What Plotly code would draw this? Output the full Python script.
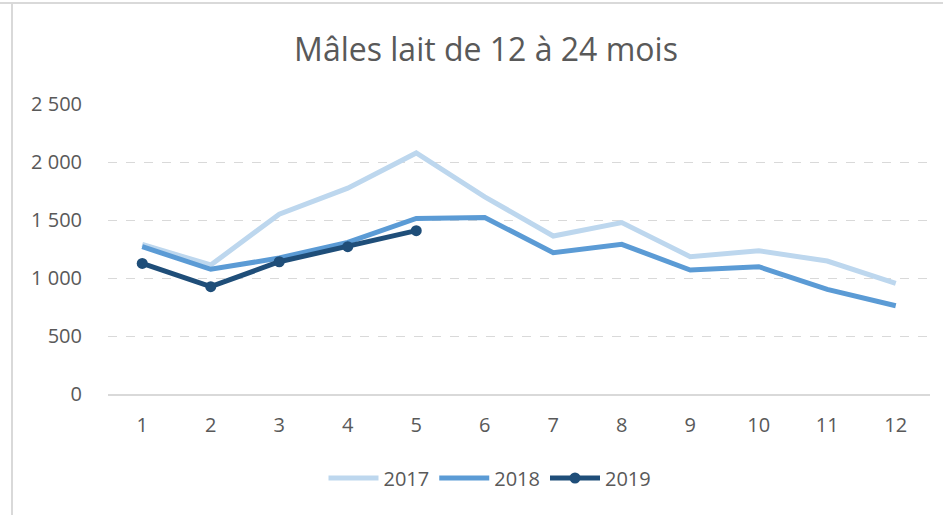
import plotly.graph_objects as go

months = [1, 2, 3, 4, 5, 6, 7, 8, 9, 10, 11, 12]
v2017 = [1290, 1112, 1550, 1775, 2078, 1700, 1362, 1478, 1184, 1235, 1146, 954]
v2018 = [1270, 1075, 1172, 1307, 1514, 1522, 1218, 1290, 1069, 1097, 902, 761]
v2019 = [1126, 925, 1140, 1270, 1408]
ytick_vals = [0, 500, 1000, 1500, 2000, 2500]

W, H = 943, 515
L, R, T, B = 108, 13, 104, 121
pw, ph = W - L - R, H - T - B

fig = go.Figure()
fig.add_trace(go.Scatter(x=months, y=v2017, name="2017", mode="lines",
                         line=dict(color="#BDD7EE", width=5)))
fig.add_trace(go.Scatter(x=months, y=v2018, name="2018", mode="lines",
                         line=dict(color="#5B9BD5", width=5)))
fig.add_trace(go.Scatter(x=months[:len(v2019)], y=v2019, name="2019", mode="lines+markers",
                         line=dict(color="#1F4E79", width=5),
                         marker=dict(size=11, color="#1F4E79")))

font_family = "'Open Sans', sans-serif"
fig.update_layout(
    width=W, height=H,
    margin=dict(l=L, r=R, t=T, b=B),
    paper_bgcolor="white", plot_bgcolor="white",
    separators=", ",
    title=dict(text="Mâles lait de 12 à 24 mois", x=(486 - L) / pw, xref="paper", xanchor="center",
               y=1 - 50 / H, yanchor="middle",
               font=dict(family=font_family, size=32, color="#595959")),
    showlegend=True,
    legend=dict(orientation="h", x=(490 - L) / pw, xanchor="center",
                y=(394 - 478) / ph, yanchor="middle",
                font=dict(family=font_family, size=20, color="#595959"),
                itemwidth=50, tracegroupgap=0),
    font=dict(family=font_family, color="#595959"),
)
fig.update_xaxes(range=[0.5, 12.5], tickvals=months, ticktext=[str(m) for m in months],
                 showgrid=False, zeroline=False, showline=True, linecolor="#D9D9D9", linewidth=1.5,
                 ticks="outside", ticklen=12, tickcolor="rgba(0,0,0,0)",
                 tickfont=dict(family=font_family, size=20, color="#595959"), fixedrange=True)
fig.update_yaxes(range=[0, 2500], tickvals=ytick_vals, tickformat=",d",
                 showgrid=True, gridcolor="#D9D9D9", griddash="dash", gridwidth=1.2,
                 zeroline=False, showline=False,
                 ticks="outside", ticklen=21, tickcolor="rgba(0,0,0,0)",
                 tickfont=dict(family=font_family, size=20, color="#595959"), fixedrange=True)

# outer frame lines (top and left)
fig.add_shape(type="line", xref="paper", yref="paper",
              x0=(0 - L) / pw, x1=(W - L) / pw, y0=1 + (T - 3) / ph, y1=1 + (T - 3) / ph,
              line=dict(color="#D9D9D9", width=2))
fig.add_shape(type="line", xref="paper", yref="paper",
              x0=(12 - L) / pw, x1=(12 - L) / pw, y0=1 + (T - 3) / ph, y1=-B / ph,
              line=dict(color="#D9D9D9", width=2))

fig.write_html("out.html", config={"displayModeBar": False},
               post_script="document.body.style.margin='0';document.body.style.padding='0';")
